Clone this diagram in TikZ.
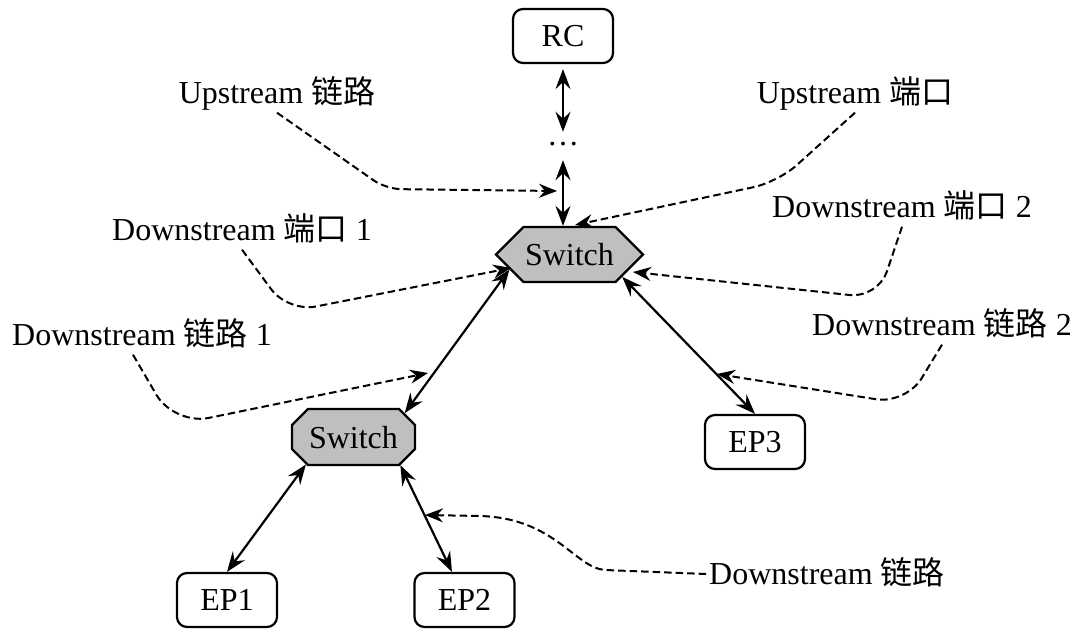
\documentclass[tikz,border=0pt]{standalone}
\usepackage{fontspec}
\setmainfont{Liberation Serif}
\newfontfamily\cjk{Noto Sans CJK SC}
\usetikzlibrary{arrows.meta,shapes.misc}
\begin{document}
\begin{tikzpicture}[x=1pt,y=-1pt,
  every node/.style={font=\fontsize{32}{38}\selectfont},
  box/.style={draw, line width=2.2pt, rounded corners=10pt, minimum width=100pt, minimum height=54pt, inner sep=0pt, fill=white},
  sw/.style={draw, line width=2.2pt, fill=gray!50, chamfered rectangle, inner sep=0pt, text height=0pt, text depth=0pt},
  lab/.style={inner xsep=3pt, inner ysep=9pt, text height=21pt, text depth=0pt},
  bi/.style={line width=2.2pt, {Stealth[length=20pt,width=15pt,inset=7pt]}-{Stealth[length=20pt,width=15pt,inset=7pt]}},
  dsh/.style={line width=2pt, dash pattern=on 7.5pt off 4pt, -{Stealth[length=18pt,width=14pt,inset=6pt]}}
]
\fill[white] (0,0) rectangle (1080,637);
\useasboundingbox (0,0) rectangle (1080,637);

% nodes
\node[box] (rc) at (563,36) {RC};
\node[anchor=base, text height=13pt, text depth=15pt, inner sep=0pt] (dots) at (563,145) {…};
\node[sw, minimum width=147pt, minimum height=55pt, chamfered rectangle xsep=36pt, chamfered rectangle ysep=27.5pt] (sw1) at (569.5,254.5) {\raisebox{-11pt}{Switch}};
\node[sw, minimum width=123pt, minimum height=56pt, chamfered rectangle xsep=37pt, chamfered rectangle ysep=16pt] (sw2) at (353.5,437) {\raisebox{-11pt}{Switch}};
\node[box] (ep1) at (227,600) {EP1};
\node[box] (ep2) at (464.5,600) {EP2};
\node[box] (ep3) at (755,442) {EP3};

% labels
\node[lab] (ul) at (277,93) {Upstream {\cjk 链路}};
\node[lab] (up) at (855,93) {Upstream {\cjk 端口}};
\node[lab] (dp1) at (242,230) {Downstream {\cjk 端口} 1};
\node[lab] (dp2) at (902,207) {Downstream {\cjk 端口} 2};
\node[lab] (dl1) at (142,335) {Downstream {\cjk 链路} 1};
\node[lab] (dl2) at (942,325) {Downstream {\cjk 链路} 2};
\node[lab] (dl) at (827,574) {Downstream {\cjk 链路}};

% targets of dashed pointers
\coordinate (ulT) at (557,191);
\coordinate (upT) at (575,225);
\coordinate (dp1T) at (511,268);
\coordinate (dp2T) at (633,272);
\coordinate (dl1T) at (428,373);
\coordinate (dl2T) at (717,374);
\coordinate (dlT) at (425,515);

% links
\draw[bi, shorten <=5pt] (rc.south) -- (dots.north);
\draw[bi] (dots.south) -- (dots.south |- sw1.north);
\draw[bi] (sw1.-166) -- (sw2.25);
\draw[bi] (sw1.-23) -- (ep3.north);
\draw[bi] (sw2.-150) -- (ep1.north);
\draw[bi] (sw2.-31) -- (ep2.114);

% dashed pointers
\draw[dsh, rounded corners=15pt] (ul.south) -- (386,189) -- (ulT);
\draw[dsh, rounded corners=25pt] (up.south) -- (778,182) -- (upT);
\draw[dsh, rounded corners=28pt] (dp1.south) -- (288,312) -- (dp1T);
\draw[dsh, rounded corners=28pt] (dp2.south) -- (878,298) -- (dp2T);
\draw[dsh, rounded corners=35pt] ([xshift=-9pt]dl1.south) -- (174,425) -- (dl1T);
\draw[dsh, rounded corners=30pt] (dl2.south) -- (906,404) -- (dl2T);
\draw[dsh] (dl.west) -- (605,570) .. controls (575,568) and (555,518) .. (480,516) -- (dlT);
\end{tikzpicture}
\end{document}
